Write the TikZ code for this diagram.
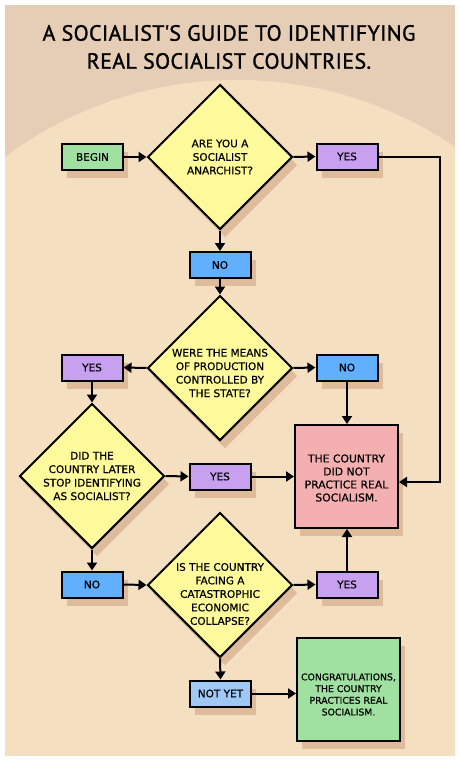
\documentclass[tikz,border=0pt]{standalone}
\usepackage{fontspec}
\setmainfont[FakeBold=0.6]{DejaVu Sans}
\newfontfamily\titlefont[FakeBold=1.2,LetterSpace=1.5]{PT Sans}
\usetikzlibrary{shapes.geometric,arrows.meta,shadows}
\definecolor{bgdark}{RGB}{230,205,181}
\definecolor{bglight}{RGB}{245,223,193}
\definecolor{shadowc}{RGB}{222,187,155}
\definecolor{diayel}{RGB}{255,250,155}
\definecolor{begingreen}{RGB}{160,224,160}
\definecolor{yespurple}{RGB}{200,160,240}
\definecolor{noblue}{RGB}{96,176,255}
\definecolor{notyetblue}{RGB}{160,200,245}
\definecolor{redc}{RGB}{244,176,176}
\begin{document}
\begin{tikzpicture}[x=1pt,y=-1pt,
  base/.style={draw=black, line width=2pt,
    drop shadow={shadow xshift=5pt, shadow yshift=-8pt, fill=shadowc, opacity=1}},
  box/.style={base, rectangle, minimum width=61pt, minimum height=26pt, inner sep=0pt,
    font=\fontsize{10.5}{12}\selectfont},
  dia/.style={base, diamond, fill=diayel, minimum width=145pt, minimum height=145pt, inner sep=0pt},
  res/.style={base, rectangle, minimum width=103pt, minimum height=103pt, inner sep=0pt},
  qtext/.style={align=center, inner sep=0pt, font=\fontsize{10.5}{13.5}\selectfont},
  rtext/.style={align=center, inner sep=0pt, font=\fontsize{10.8}{13}\selectfont},
  gtext/.style={align=center, inner sep=0pt, font=\fontsize{9.3}{11.7}\selectfont},
  arr/.style={line width=2pt, -{Triangle[length=8pt,width=10pt]}},
]
\useasboundingbox (0,0) rectangle (460,760);
\fill[white] (0,0) rectangle (460,760);
\fill[bgdark] (5,5) rectangle (455,755);
\begin{scope}
  \clip (5,5) rectangle (455,755);
  \fill[bglight] (237,468) circle[radius=388];
  \fill[bglight] (5,468) rectangle (455,755);
\end{scope}

\node[align=center, inner sep=0pt, font=\titlefont\fontsize{22}{28}\selectfont] (title) at (229,47)
  {A SOCIALIST\textquotesingle S GUIDE TO IDENTIFYING\\REAL SOCIALIST COUNTRIES.};

\node[box, fill=begingreen] (begin) at (92.5,157) {BEGIN};
\node[dia] (d1) at (220,157) {};
\node[qtext] (t1) at (220,157) {ARE YOU A\\SOCIALIST\\ANARCHIST?};
\node[box, fill=yespurple] (y1) at (347,156.5) {YES};
\node[box, fill=noblue] (n1) at (220,265) {NO};
\node[dia] (d2) at (220,368) {};
\node[qtext] (t2) at (220,373) {WERE THE MEANS\\OF PRODUCTION\\CONTROLLED BY\\THE STATE?};
\node[box, fill=yespurple] (y2) at (92,367.5) {YES};
\node[box, fill=noblue] (n2) at (347,367.5) {NO};
\node[res, fill=redc] (red) at (346.5,476.5) {};
\node[rtext] (redt) at (346.5,478) {THE COUNTRY\\DID NOT\\PRACTICE REAL\\SOCIALISM.};
\node[dia] (d3) at (92,476) {};
\node[qtext] (t3) at (92,476) {DID THE\\COUNTRY LATER\\STOP IDENTIFYING\\AS SOCIALIST?};
\node[box, fill=yespurple] (y3) at (220,476.5) {YES};
\node[box, fill=noblue] (n3) at (92,584.5) {NO};
\node[dia] (d4) at (220,585) {};
\node[qtext] (t4) at (220,594) {IS THE COUNTRY\\FACING A\\CATASTROPHIC\\ECONOMIC\\COLLAPSE?};
\node[box, fill=yespurple] (y4) at (347,584.5) {YES};
\node[box, fill=notyetblue] (ny) at (220.5,693.5) {NOT YET};
\node[res, fill=begingreen] (win) at (348.5,689.5) {};
\node[gtext] (wint) at (348.5,694.5) {CONGRATULATIONS,\\THE COUNTRY\\PRACTICES REAL\\SOCIALISM.};

\coordinate (c1) at (440,482);
\draw[arr] (begin) -- (d1.west);
\draw[arr] (d1.east) -- (y1.west);
\draw[arr] (y1.east) -| (c1) -- (red.east |- c1);
\draw[arr] (d1.south) -- (n1.north);
\draw[arr] (n1.south) -- (d2.north);
\draw[arr] (d2.west) -- (y2.east);
\draw[arr] (d2.east) -- (n2.west);
\draw[arr] (n2.south) -- (n2.south |- red.north);
\draw[arr] (y2.south) -- (d3.north);
\draw[arr] (d3.east) -- (y3.west);
\draw[arr] (y3.east) -- (red.west |- y3.east);
\draw[arr] (d3.south) -- (n3.north);
\draw[arr] (n3.east) -- (d4.west);
\draw[arr] (d4.east) -- (y4.west);
\draw[arr] (y4.north) -- (y4.north |- red.south);
\draw[arr] (d4.south) -- (ny.north);
\draw[arr] (ny.east) -- (win.west |- ny.east);
\end{tikzpicture}
\end{document}
